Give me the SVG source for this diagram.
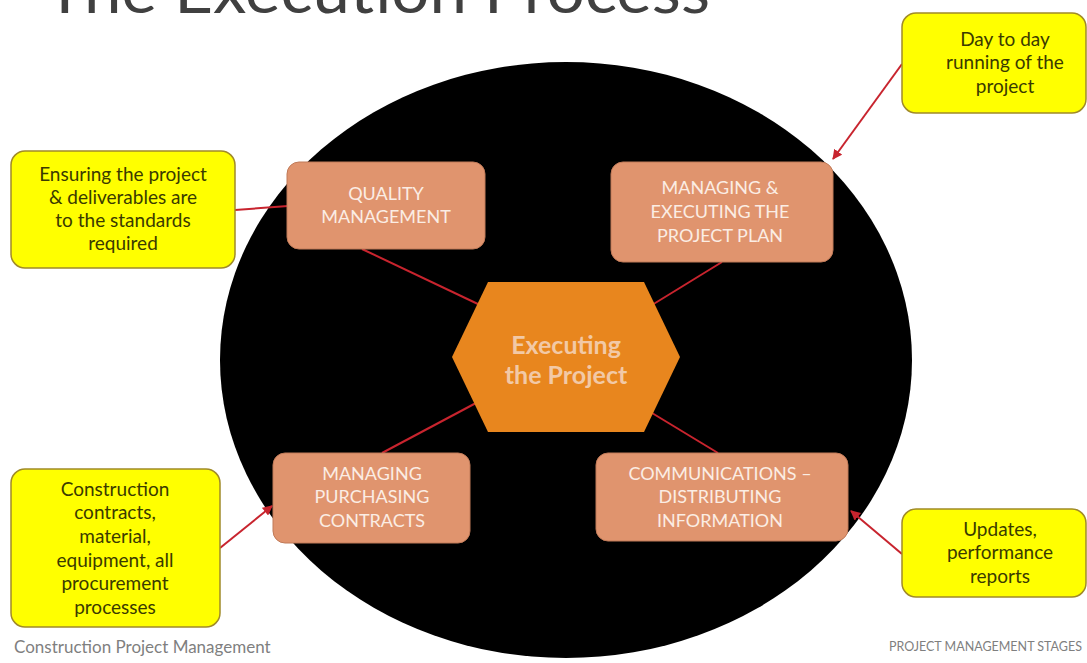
<svg xmlns="http://www.w3.org/2000/svg" width="1087" height="663" viewBox="0 0 1087 663">
<defs>
<style>
.callout{fill:#FFFF00;stroke:#A08A28;stroke-width:1.5}
.ctext{font-family:Lato,"Open Sans",sans-serif;font-size:19px;fill:#3A3A00;text-anchor:middle}
.box{fill:#E0946E;stroke:#C07A58;stroke-width:1}
.btext{font-family:Lato,"Open Sans",sans-serif;font-size:18px;fill:#FBEDE4;text-anchor:middle}
.conn{stroke:#C8242E;stroke-width:2;fill:none}
</style>
<marker id="arr" viewBox="0 0 10 10" refX="9" refY="5" markerWidth="5" markerHeight="5" orient="auto-start-reverse">
<path d="M0,0 L10,5 L0,10 z" fill="#C8242E"/>
</marker>
</defs>
<rect width="1087" height="663" fill="#FFFFFF"/>
<text x="45" y="13" font-family="Lato,'Open Sans',sans-serif" font-weight="normal" font-size="62" fill="#404040" textLength="665" lengthAdjust="spacingAndGlyphs">The Execution Process</text>
<ellipse id="circle" cx="566" cy="360" rx="346" ry="298" fill="#000000"/>
<g id="connectors">
<line class="conn" x1="480" y1="305" x2="362" y2="249"/>
<line class="conn" x1="652" y1="305" x2="722" y2="262"/>
<line class="conn" x1="476" y1="403" x2="382" y2="453"/>
<line class="conn" x1="652" y1="413" x2="718" y2="453"/>
<line class="conn" x1="235" y1="210" x2="288" y2="206"/>
<line class="conn" x1="902" y1="64" x2="833" y2="159" marker-end="url(#arr)"/>
<line class="conn" x1="220" y1="548" x2="272" y2="506" marker-end="url(#arr)"/>
<line class="conn" x1="902" y1="554" x2="851" y2="511" marker-end="url(#arr)"/>
</g>
<g id="hexagon">
<polygon points="452,357 488,282 644,282 680,357 644,432 488,432" fill="#E8861E"/>
<text x="566" y="354" font-family="Lato,'Open Sans',sans-serif" font-weight="bold" font-size="25" fill="#F2C9A6" text-anchor="middle">Executing</text>
<text x="566" y="384" font-family="Lato,'Open Sans',sans-serif" font-weight="bold" font-size="25" fill="#F2C9A6" text-anchor="middle">the Project</text>
</g>
<g id="quality">
<rect class="box" x="287" y="162" width="198" height="87" rx="12"/>
<text class="btext" x="386" y="200">QUALITY</text>
<text class="btext" x="386" y="223">MANAGEMENT</text>
</g>
<g id="managing">
<rect class="box" x="611" y="162" width="222" height="100" rx="12"/>
<text class="btext" x="720" y="194">MANAGING &amp;</text>
<text class="btext" x="720" y="218">EXECUTING THE</text>
<text class="btext" x="720" y="242">PROJECT PLAN</text>
</g>
<g id="purchasing">
<rect class="box" x="273" y="453" width="197" height="90" rx="12"/>
<text class="btext" x="372" y="480">MANAGING</text>
<text class="btext" x="372" y="503">PURCHASING</text>
<text class="btext" x="372" y="527">CONTRACTS</text>
</g>
<g id="communications">
<rect class="box" x="596" y="453" width="252" height="88" rx="12"/>
<text class="btext" x="720" y="480">COMMUNICATIONS –</text>
<text class="btext" x="720" y="503">DISTRIBUTING</text>
<text class="btext" x="720" y="527">INFORMATION</text>
</g>
<g id="callout-quality">
<rect class="callout" x="11" y="151" width="224" height="117" rx="14"/>
<text class="ctext" x="123" y="181">Ensuring the project</text>
<text class="ctext" x="123" y="204">&amp;  deliverables are</text>
<text class="ctext" x="123" y="227">to the standards</text>
<text class="ctext" x="123" y="250">required</text>
</g>
<g id="callout-daytoday">
<rect class="callout" x="902" y="13" width="184" height="100" rx="14"/>
<text class="ctext" x="1005" y="46">Day to day</text>
<text class="ctext" x="1005" y="69">running of the</text>
<text class="ctext" x="1005" y="93">project</text>
</g>
<g id="callout-construction">
<rect class="callout" x="11" y="469" width="209" height="158" rx="14"/>
<text class="ctext" x="115" y="496">Construction</text>
<text class="ctext" x="115" y="519">contracts,</text>
<text class="ctext" x="115" y="543">material,</text>
<text class="ctext" x="115" y="567">equipment, all</text>
<text class="ctext" x="115" y="590">procurement</text>
<text class="ctext" x="115" y="614">processes</text>
</g>
<g id="callout-updates">
<rect class="callout" x="902" y="509" width="184" height="88" rx="14"/>
<text class="ctext" x="1000" y="536">Updates,</text>
<text class="ctext" x="1000" y="559">performance</text>
<text class="ctext" x="1000" y="583">reports</text>
</g>
<text x="14" y="653" font-family="Lato,'Open Sans',sans-serif" font-size="17" fill="#7F7F7F">Construction Project Management</text>
<text x="1082" y="651" font-family="Lato,'Open Sans',sans-serif" font-size="12.5" fill="#7F7F7F" text-anchor="end">PROJECT MANAGEMENT STAGES</text>
</svg>
